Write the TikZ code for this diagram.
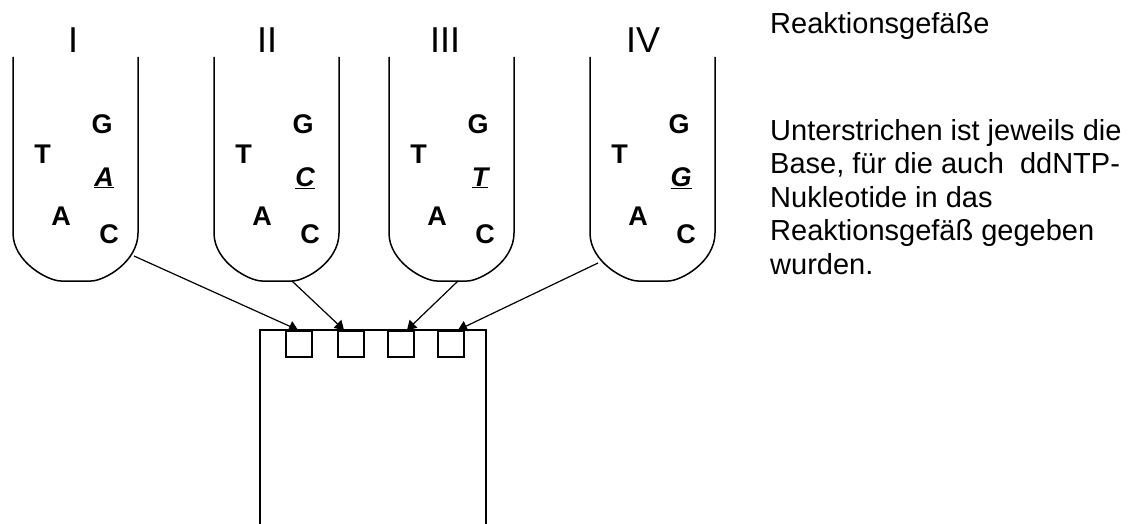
\documentclass[tikz,border=0pt]{standalone}
\usepackage{fontspec}
\setmainfont{Liberation Sans}
\usetikzlibrary{arrows.meta}
\begin{document}
\begin{tikzpicture}[x=1pt,y=-1pt,
  wall/.style={line width=1.5pt},
  basel/.style={font=\fontsize{27}{27}\selectfont\bfseries, inner sep=0pt},
  numeral/.style={font=\fontsize{36}{36}\selectfont, inner sep=0pt},
  well/.style={draw, line width=1.5pt, minimum width=26pt, minimum height=26pt, inner sep=0pt, anchor=north west},
  conn/.style={line width=1.2pt, -{Triangle[length=9pt,width=11pt]}},
  note/.style={font=\fontsize{29}{33.5}\selectfont, inner sep=0pt, align=left, anchor=base west}]
\useasboundingbox (0,0) rectangle (1129,524);
\fill[white] (0,0) rectangle (1129,524);
% tubes
\foreach \L/\lab/\lx/\u [count=\i] in {13/I/73/A, 214/II/267/C, 389/III/445/T, 590/IV/643/G} {
  \draw[wall] (\L,57) -- (\L,233) .. controls (\L,262) and (\L+35,281) .. (\L+48,281)
     -- (\L+78,281) .. controls (\L+91,281) and (\L+125,262) .. (\L+125,233) -- (\L+125,57);
  \node[numeral] (num\i) at (\lx,40) {\lab};
  \node[basel] (g\i) at (\L+89,124) {G};
  \node[basel] (t\i) at (\L+29.5,154) {T};
  \node[basel] (u\i) at (\L+91,178) {\underline{\itshape \u}};
  \node[basel] (a\i) at (\L+48,216) {A};
  \node[basel] (c\i) at (\L+96,234) {C};
}
% gel
\draw[wall] (260,524) |- (486,330) -- (486,524);
\node[well] (w1) at (285,330) {};
\node[well] (w2) at (337,330) {};
\node[well] (w3) at (387,330) {};
\node[well] (w4) at (437,330) {};
% connector ends
\coordinate (s1) at (134,256);
\coordinate (s2) at (292,281);
\coordinate (s3) at (458,281);
\coordinate (s4) at (598,263);
\coordinate (e1) at (298,330);
\coordinate (e2) at (344,330);
\coordinate (e3) at (407,330);
\coordinate (e4) at (458,330);
\draw[conn] (s1) -- (e1);
\draw[conn] (s2) -- (e2);
\draw[conn] (s3) -- (e3);
\draw[conn] (s4) -- (e4);
% texts
\node[note] (title) at (770,34) {Reaktionsgefäße};
\node[note] (expl) at (770,274) {Unterstrichen ist jeweils die\\Base, für die auch\ \ ddNTP-\\Nukleotide in das\\Reaktionsgefäß gegeben\\wurden.};
\end{tikzpicture}
\end{document}
